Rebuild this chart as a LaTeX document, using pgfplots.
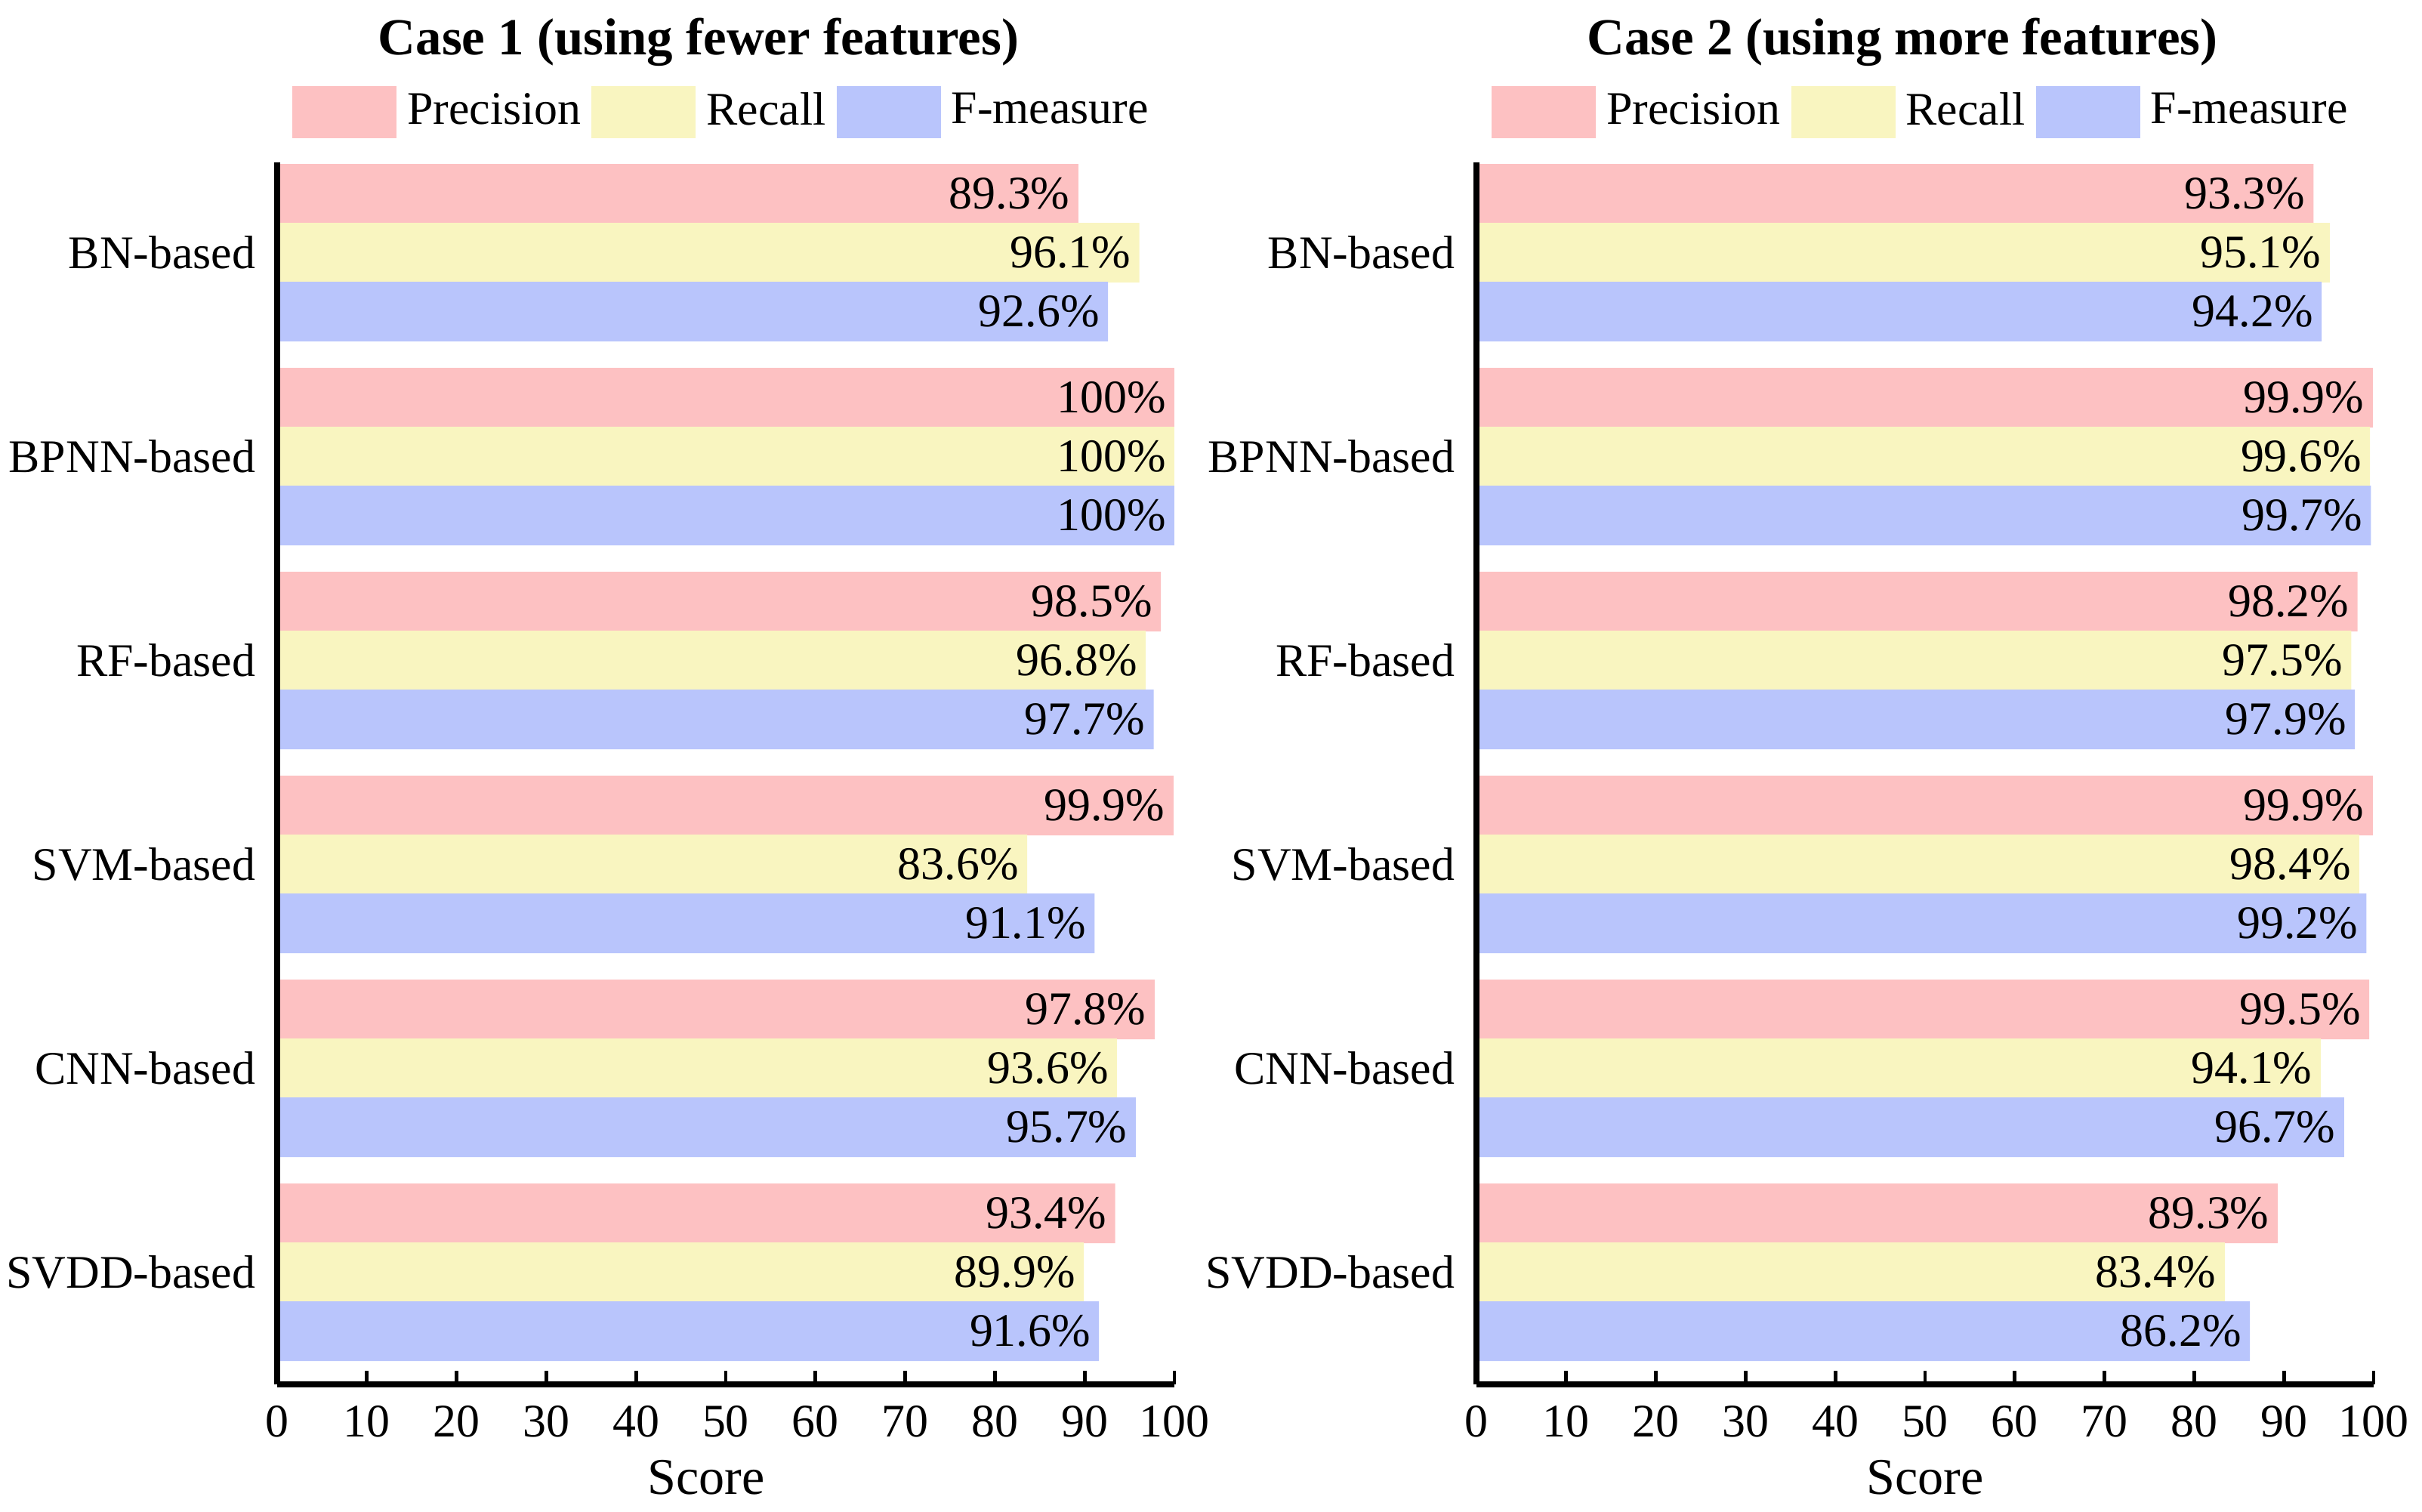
\documentclass[border=0pt]{standalone}
\usepackage{fontspec}
\setmainfont{Liberation Serif}
\usepackage{pgfplots}
\pgfplotsset{compat=1.18}

\definecolor{cP}{RGB}{253,193,194}
\definecolor{cR}{RGB}{249,245,192}
\definecolor{cF}{RGB}{185,197,252}

\pgfplotsset{
  /pgf/number format/assume math mode=true,
  scoreaxis/.style={
    scale only axis,
    width=5.94cm, height=8.09cm,
    anchor=south west,
    axis on top,
    xbar, bar width=0.395cm,
    xmin=0, xmax=100,
    ymin=-0.55, ymax=5.443,
    xtick={0,10,...,100},
    ytick={0,...,5},
    yticklabels={SVDD-based,CNN-based,SVM-based,RF-based,BPNN-based,BN-based},
    axis x line*=bottom, axis y line*=left,
    axis line style={-, line width=1pt},
    x tick style={line width=0.7pt, black},
    tick align=inside, major tick length=0.09cm,
    y tick style={draw=none},
    font=\fontsize{8.8}{10}\selectfont,
    yticklabel style={xshift=-0.02cm},
    xticklabel style={yshift=-0.02cm},
    xlabel={Score},
    xlabel style={at={(axis description cs:0.5,0)}, anchor=base, yshift=-0.725cm,
      font=\fontsize{9.7}{11}\selectfont},
    title style={at={(axis description cs:0.5,1)}, anchor=base, yshift=0.5cm,
      font=\bfseries\fontsize{9.8}{11}\selectfont},
    legend columns=3,
    legend style={draw=none, fill=none, inner sep=0pt,
      at={(0.5,1)}, anchor=south, yshift=0.12cm,
      font=\fontsize{8.8}{10}\selectfont},
    legend image code/.code={\fill[##1] (0cm,-0.172cm) rectangle (0.69cm,0.172cm);},
    nodes near coords={\pgfmathprintnumber[fixed,precision=1]{\pgfplotspointmeta}\%},
    every node near coord/.append style={anchor=east, inner xsep=0.05cm, black,
      font=\fontsize{8.8}{10}\selectfont},
    point meta=x,
  },
  pbar/.style={fill=cP, draw=none, bar shift=0.39cm},
  rbar/.style={fill=cR, draw=none, bar shift=0cm},
  fbar/.style={fill=cF, draw=none, bar shift=-0.39cm},
}

\begin{document}
\begin{tikzpicture}
\useasboundingbox (-1.835,-0.845) rectangle (14.2,9.165);

% Case 1
\begin{axis}[scoreaxis, at={(0,0)},
  title={Case 1 (using fewer features)},
  title style={xshift=-0.18cm},
  xlabel style={xshift=-0.13cm}]
\addplot[pbar] coordinates {(89.3,5) (100,4) (98.5,3) (99.9,2) (97.8,1) (93.4,0)};
\addplot[rbar] coordinates {(96.1,5) (100,4) (96.8,3) (83.6,2) (93.6,1) (89.9,0)};
\addplot[fbar] coordinates {(92.6,5) (100,4) (97.7,3) (91.1,2) (95.7,1) (91.6,0)};
\legend{Precision,Recall,F-measure}
\end{axis}

% Case 2
\begin{axis}[scoreaxis, at={(7.94cm,0)},
  title={Case 2 (using more features)},
  title style={xshift=-0.15cm}]
\addplot[pbar] coordinates {(93.3,5) (99.9,4) (98.2,3) (99.9,2) (99.5,1) (89.3,0)};
\addplot[rbar] coordinates {(95.1,5) (99.6,4) (97.5,3) (98.4,2) (94.1,1) (83.4,0)};
\addplot[fbar] coordinates {(94.2,5) (99.7,4) (97.9,3) (99.2,2) (96.7,1) (86.2,0)};
\legend{Precision,Recall,F-measure}
\end{axis}
\end{tikzpicture}
\end{document}
